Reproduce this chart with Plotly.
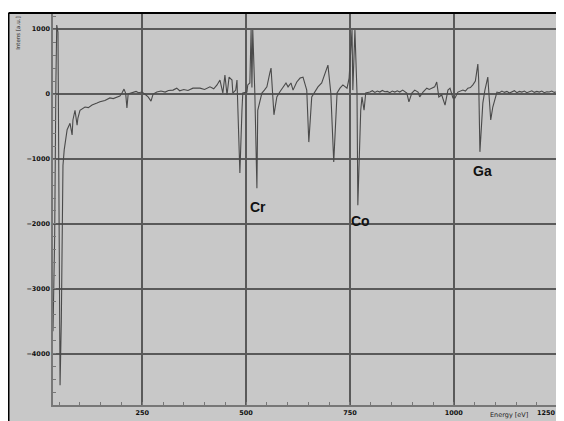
import plotly.graph_objects as go

energy = [35, 39, 42, 44, 47, 50, 52, 55, 57, 59, 62, 64, 69, 76, 81, 83, 88, 93, 95, 100,
          106, 112, 120, 129, 141, 148, 160, 172, 180, 189, 196, 201, 206, 210, 213, 216,
          225, 235, 241, 249, 256, 264, 271, 276, 285, 295, 305, 313, 324, 333, 340, 350,
          360, 372, 384, 389, 400, 413, 422, 430, 437, 444, 449, 454, 459, 466, 468, 475,
          478, 485, 490, 492, 502, 504, 509, 512, 514, 516, 521, 526, 528, 533, 538, 544,
          550, 557, 560, 567, 574, 581, 589, 596, 601, 608, 613, 622, 630, 637, 646, 651,
          658, 666, 673, 682, 690, 697, 704, 711, 719, 726, 733, 743, 748, 755, 757, 762,
          767, 769, 776, 779, 784, 788, 798, 804, 810, 816, 822, 828, 834, 840, 846, 852,
          858, 864, 870, 877, 887, 892, 899, 906, 914, 918, 926, 935, 941, 947, 954, 959,
          964, 971, 979, 986, 991, 998, 1003, 1010, 1016, 1022, 1028, 1034, 1040, 1046,
          1052, 1058, 1060, 1063, 1070, 1075, 1082, 1089, 1094, 1104, 1110, 1116, 1122,
          1128, 1134, 1140, 1146, 1152, 1158, 1164, 1170, 1176, 1182, 1188, 1194, 1200,
          1206, 1212, 1218, 1224, 1230, 1236, 1242, 1250]
intensity = [-3650, -2200, 200, 1060, 950, -3000, -4480, -3500, -2000, -1100, -860, -750,
             -550, -450, -630, -400, -250, -480, -370, -250,
             -220, -200, -210, -170, -140, -120, -100, -60, -70, -45, -30, 15, 75, 10, -215, 0,
             15, 40, 20, 30, 0, -45, -110, 0, 30, 45, 30, 55, 60, 90, 50, 70,
             55, 90, 90, 90, 70, 110, 80, 140, 215, 15, 290, -15, 260, 215, 15, 60,
             215, -1215, -250, 15, 30, 140, 170, 985, 100, 985, 15, -1450, -250, -90, 15, 60,
             110, 320, 400, -320, -45, 30, 110, 170, 110, 170, 60, 185, 245, 260, 60, -740,
             -45, 30, 110, 170, 320, 445, 15, -1045, 15, 90, 140, 90, 245, 985, 60, 985,
             15, -1710, -250, -45, -250, 15, 30, 50, 25, 45, 30, 55, 35, 40, 20, 45,
             30, 50, 30, 60, 15, -120, 15, 60, 30, -45, 30, 90, 70, 90, 110, 185,
             -45, -15, -170, 60, 90, -60, -60, 30, 50, 60, 45, 90, 100, 140,
             200, 460, 215, -890, -140, 60, 260, -400, -200, 30, 20, 45, 25,
             40, 15, 35, 50, 20, 40, 30, 45, 20, 35, 50, 25, 40,
             30, 45, 20, 35, 30, 45, 25, 35]

x_ticks = [250, 500, 750, 1000, 1250]
x_tick_labels = ["250", "500", "750", "1000", "1250"]
y_ticks = [-4000, -3000, -2000, -1000, 0, 1000]
peak_labels = ["Cr", "Co", "Ga"]
peak_x = [529, 775, 1069]
peak_y = [-1738, -1954, -1185]

BG = "#c8c8c8"
GRID = "#5a5a5a"

fig = go.Figure()
fig.add_trace(go.Scatter(x=energy, y=intensity, mode="lines",
                         line=dict(color="#4a4a4a", width=1.1),
                         showlegend=False, hoverinfo="skip"))

for t, px, py in zip(peak_labels, peak_x, peak_y):
    fig.add_annotation(x=px, y=py, text=t, showarrow=False,
                       font=dict(family="Liberation Sans, Arial", size=14, color="#111",
                                 weight="bold"))

tickfont = dict(family="DejaVu Sans", size=6.5, color="#111", weight="bold")

# last x tick label is right-aligned at the edge so that it stays fully visible
fig.add_annotation(xref="paper", yref="paper", x=1.0, y=-0.005, text=x_tick_labels[-1],
                   showarrow=False, xanchor="right", yanchor="top", font=tickfont)

# plot area: 505 x 391 px
fig.add_annotation(xref="paper", yref="paper", x=-0.069, y=0.997, text="Intens [a.u.]",
                   textangle=-90, showarrow=False, xanchor="center", yanchor="top",
                   font=dict(family="DejaVu Sans", size=5.5, color="#222"))
fig.add_annotation(xref="paper", yref="paper", x=0.862, y=-0.041, text="Energy [eV]",
                   showarrow=False, xanchor="left", yanchor="bottom",
                   font=dict(family="DejaVu Sans", size=6.5, color="#222"))

x0p = (0.5 - 45) / 505
y1p = (397 - 5) / 391
fig.add_shape(type="rect", xref="paper", yref="paper", x0=-0.1, x1=1.05, y0=-0.1, y1=y1p,
              fillcolor=BG, line=dict(width=0), layer="below")
fig.add_shape(type="line", xref="paper", yref="paper", x0=x0p, x1=1.05, y0=y1p, y1=y1p,
              line=dict(color="black", width=2), layer="below")
fig.add_shape(type="line", xref="paper", yref="paper", x0=x0p, x1=x0p, y0=-0.1, y1=y1p,
              line=dict(color="black", width=2), layer="below")

fig.update_xaxes(range=[35, 1251], tickvals=x_ticks,
                 ticktext=x_tick_labels[:-1] + [""], showgrid=True, gridcolor=GRID,
                 gridwidth=1.5, ticks="inside", ticklen=3, tickcolor="#777",
                 showline=True, linecolor="#777", linewidth=1.5, zeroline=False,
                 tickfont=tickfont, automargin=False,
                 minor=dict(tick0=0, dtick=50, ticks="inside", ticklen=3,
                            tickcolor="#777", showgrid=False))
fig.update_yaxes(range=[-4785, 1231], tickvals=y_ticks, showgrid=True, gridcolor=GRID,
                 gridwidth=1.5, ticks="inside", ticklen=3, tickcolor="#777",
                 showline=True, linecolor="#777", linewidth=1.5, zeroline=False,
                 tickfont=tickfont, automargin=False,
                 minor=dict(tick0=0, dtick=200, ticks="inside", ticklen=3,
                            tickcolor="#777", showgrid=False))

# page body adds an 8px offset, so the figure is 8px smaller in each direction
fig.update_layout(width=556, height=413, margin=dict(l=45, r=6, t=6, b=16),
                  paper_bgcolor="white", plot_bgcolor="rgba(0,0,0,0)")

fig.write_html("out.html")
